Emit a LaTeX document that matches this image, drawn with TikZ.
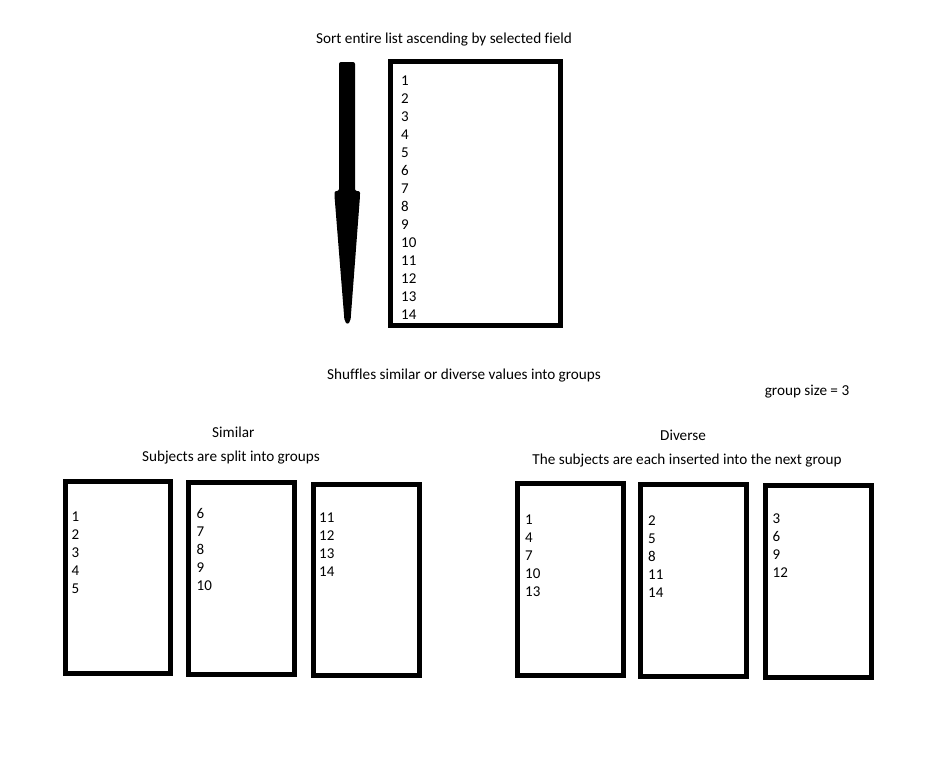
\documentclass[tikz,border=0pt]{standalone}
\usepackage{fontspec}
\setmainfont[Ligatures=NoCommon]{Carlito}
\begin{document}
\begin{tikzpicture}[x=1pt,y=-1pt,
  txt/.style={inner sep=0pt,anchor=base,font=\fontsize{15.2}{18}\selectfont},
  num/.style={inner sep=0pt,anchor=base west,font=\fontsize{15}{18}\selectfont},
  listbox/.style={draw=black,line width=5pt,rectangle,inner sep=0pt,fill=none}]
\useasboundingbox[fill=white] (0,0) rectangle (929,756);
% titles
\node[txt] (title) at (444,43) {Sort entire list ascending by selected field};
\node[txt] (shuffle) at (464,379.5) {Shuffles similar or diverse values into groups};
\node[txt] (gsize) at (807,395.5) {group size = 3};
\node[txt] (similar) at (233.3,437) {Similar};
\node[txt] (simdesc) at (231,461.5) {Subjects are split into groups};
\node[txt] (diverse) at (683,440) {Diverse};
\node[txt] (divdesc) at (687,464) {The subjects are each inserted into the next group};
% arrow
\fill[black,rounded corners=2pt] (339,62) -- (355,62) -- (355,191) -- (360,191) -- (360,196)
  -- (350.5,321) -- (347.5,324.5) -- (344.5,321) -- (334.5,196) -- (334.5,191) -- (339,191) -- cycle;
% boxes
\node[listbox,minimum width=170pt,minimum height=264pt] (top) at (475.5,193.5) {};
\node[listbox,minimum width=105pt,minimum height=191.4pt] (b1) at (118.3,577.5) {};
\node[listbox,minimum width=105.7pt,minimum height=191.7pt] (b2) at (241.35,578.35) {};
\node[listbox,minimum width=106.3pt,minimum height=191pt] (b3) at (366.65,579.7) {};
\node[listbox,minimum width=105.7pt,minimum height=191.7pt] (b4) at (570.35,579.35) {};
\node[listbox,minimum width=106.6pt,minimum height=192pt] (b5) at (693.5,580.8) {};
\node[listbox,minimum width=105.7pt,minimum height=191.7pt] (b6) at (818.65,581.65) {};
% numbers
\foreach \n [count=\i from 0] in {1,...,14}
  \node[num] (t\n) at (401,85.5+18*\i) {\n};
\foreach \n [count=\i from 0] in {1,2,3,4,5}
  \node[num] (s1n\n) at (71.5,521+18*\i) {\n};
\foreach \n [count=\i from 0] in {6,7,8,9,10}
  \node[num] (s2n\n) at (196.5,518.5+18*\i) {\n};
\foreach \n [count=\i from 0] in {11,12,13,14}
  \node[num] (s3n\n) at (319,522+18*\i) {\n};
\foreach \n [count=\i from 0] in {1,4,7,10,13}
  \node[num] (d1n\n) at (525,524.5+18*\i) {\n};
\foreach \n [count=\i from 0] in {2,5,8,11,14}
  \node[num] (d2n\n) at (648,525+18*\i) {\n};
\foreach \n [count=\i from 0] in {3,6,9,12}
  \node[num] (d3n\n) at (772.5,523.5+18*\i) {\n};
\end{tikzpicture}
\end{document}
